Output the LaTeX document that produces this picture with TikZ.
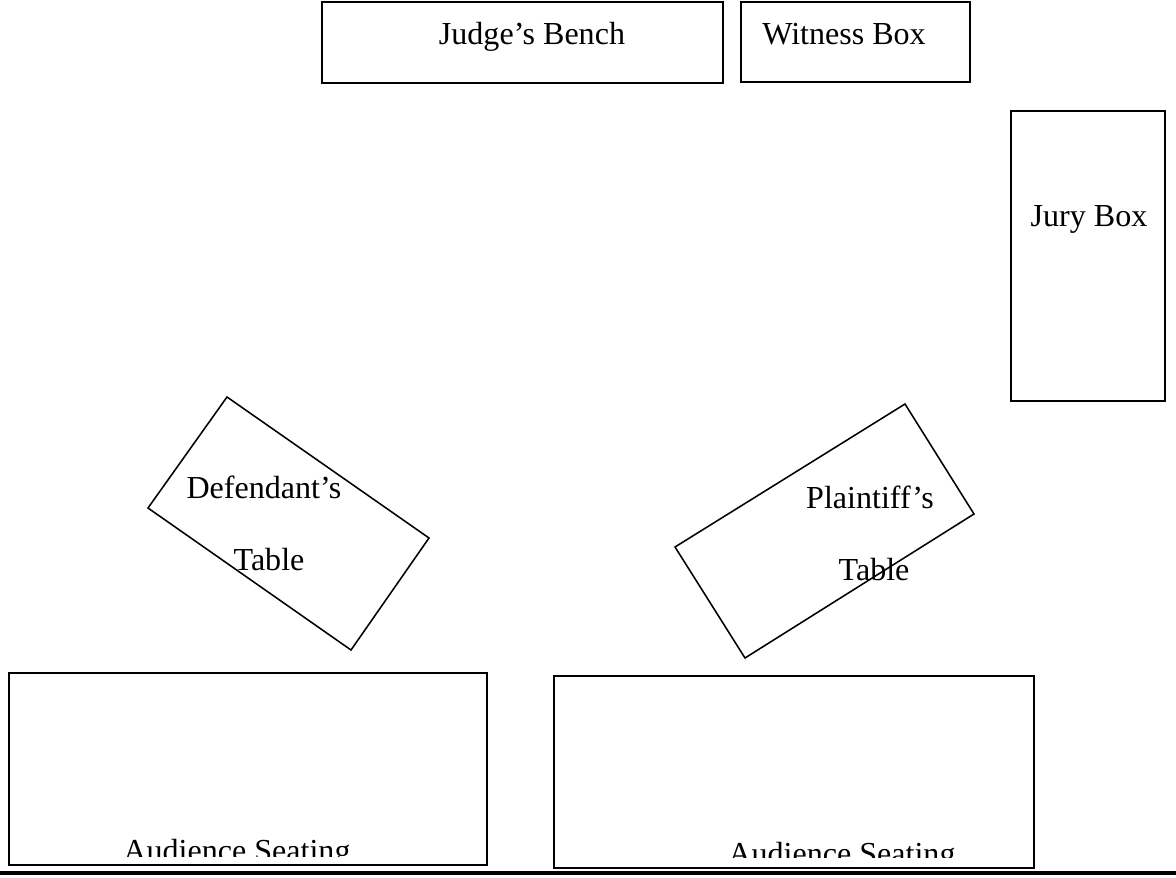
\documentclass[tikz,border=0pt]{standalone}
\usepackage{fontspec}
\setmainfont{Liberation Serif}
\tikzset{
    lab/.style={
        font=\fontsize{22.8}{27}\selectfont, inner sep=0pt, anchor=base
    },
    wall/.style={line width=1.1pt}
}

\begin{document}
\begin{tikzpicture}[x=0.025cm,y=-0.025cm,line join=miter]
    \useasboundingbox (0,0) rectangle (1176,878);

% --- front of the court ---
    \draw[wall] (322,2) rectangle (723,83);      % judge's bench
    \draw[wall] (741,2) rectangle (970,82);      % witness box
    \draw[wall] (1011,111) rectangle (1165,401); % jury box

    \node[lab] (bench)   at (532,45)  {Judge’s Bench};
    \node[lab] (witness) at (844,45)  {Witness Box};
    \node[lab] (jury)    at (1089,227) {Jury Box};

% --- tables (turned) ---
    \draw[wall] (227,397) -- (429,538) -- (351,650) -- (148,508) -- cycle;
    \draw[wall] (905,404) -- (974,514) -- (745,658) -- (675,547) -- cycle;

    \node[lab] (defA) at (264,498) {Defendant’s};
    \node[lab] (defB) at (269,570) {Table};
    \node[lab] (plaA) at (870,509) {Plaintiff’s};
    \node[lab] (plaB) at (874,580) {Table};

% --- audience (text cut off) ---
    \begin{scope}
      \clip (9,673) rectangle (487,856);
      \node[lab] (audL) at (237,861) {Audience Seating};
    \end{scope}
    \begin{scope}
      \clip (554,676) rectangle (1034,857);
      \node[lab] (audR) at (842,864) {Audience Seating};
    \end{scope}
    \draw[wall] (9,673) rectangle (487,865);
    \draw[wall] (554,676) rectangle (1034,868);

% back line
    \draw[line width=2.2pt] (0,873) -- (1176,873);

\end{tikzpicture}
\end{document}
